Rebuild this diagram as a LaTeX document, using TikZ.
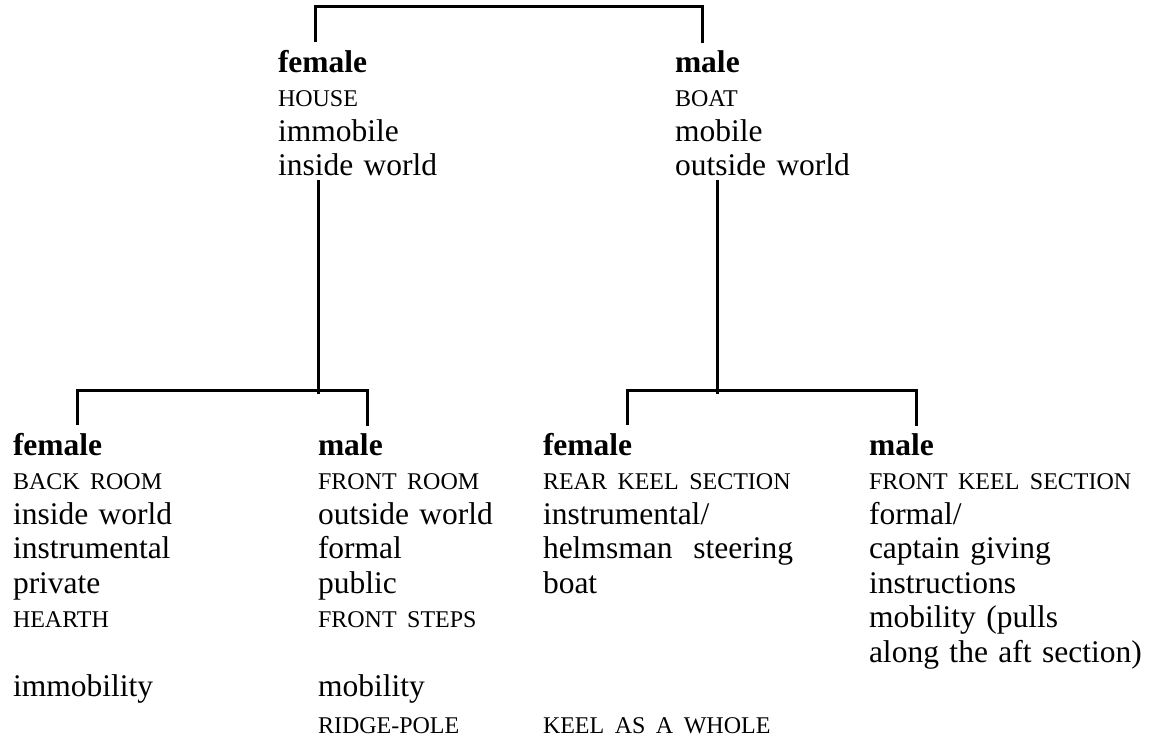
\documentclass[tikz,border=0pt]{standalone}
\usepackage{fontspec}
\setmainfont{Liberation Serif}
\usetikzlibrary{calc}
\newcommand{\smcap}[1]{{\fontsize{12}{17.25}\selectfont #1}}

\begin{document}
\begin{tikzpicture}[
  x=0.5pt,y=-0.5pt,
  every node/.style={inner sep=0pt,outer sep=0pt},
  col/.style={anchor=base west,text width=150pt,align=left,
    font=\fontsize{15.75}{17.25}\selectfont},
  branch/.style={line width=1.5pt,line cap=rect}
]
\useasboundingbox (0,0) rectangle (1151,745);
% upper level
\node[col] (house) at (278,72) {\textbf{female}\\ \smcap{HOUSE}\\ immobile\\ inside world};
\node[col] (boat) at (675,72) {\textbf{male}\\ \smcap{BOAT}\\ mobile\\ outside world};
% lower level
\node[col] (backroom) at (13,455) {\textbf{female}\\ \smcap{BACK ROOM}\\ inside world\\ instrumental\\ private\\ \smcap{HEARTH}\\[17.25pt] immobility};
\node[col] (frontroom) at (318,455) {\textbf{male}\\ \smcap{FRONT ROOM}\\ outside world\\ formal\\ public\\ \smcap{FRONT STEPS}\\[17.25pt] mobility};
\node[col] (rearkeel) at (543,455) {\textbf{female}\\ \smcap{REAR KEEL SECTION}\\ instrumental/\\ helmsman~ steering\\ boat};
\node[col] (frontkeel) at (869,455) {\textbf{male}\\ \smcap{FRONT KEEL SECTION}\\ formal/\\ captain giving\\ instructions\\ mobility (pulls\\ along the aft section)};
\node[col] (ridge) at (318,733) {\smcap{RIDGE-POLE}};
\node[col] (keel) at (543,733) {\smcap{KEEL AS A WHOLE}};
% brackets
\coordinate (jl) at (318,392);
\coordinate (jr) at (717,392);
\draw[branch] ($(house.north west)+(37,-9)$) -- ++(0,-34) -| ($(boat.north west)+(27,-9)$);
\draw[branch] ([yshift=-3pt]house.south -| jl) -- (jl);
\draw[branch] ([yshift=-3pt]boat.south -| jr) -- (jr);
\draw[branch] ($(backroom.north west)+(64,-9)$) -- ++(0,-33) -| ($(frontroom.north west)+(49,-9)$);
\draw[branch] ($(rearkeel.north west)+(84,-9)$) -- ++(0,-33) -| ($(frontkeel.north west)+(47,-9)$);
\end{tikzpicture}
\end{document}
